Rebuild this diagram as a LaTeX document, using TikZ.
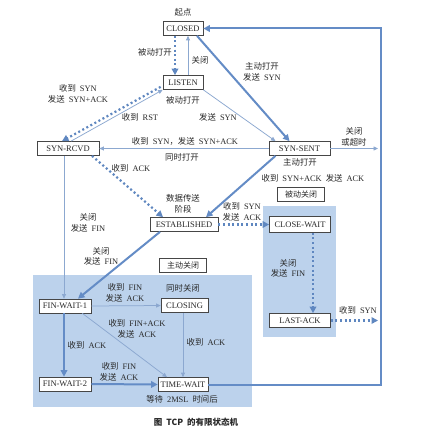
\documentclass[tikz,border=0pt]{standalone}
\usepackage{fontspec}
\setmainfont{Liberation Serif}
\newfontfamily\cjk{Noto Sans CJK SC}
\usetikzlibrary{arrows.meta}
\newcommand\z[1]{{\cjk #1}}
\newcommand\mygap{\hspace{4pt}}
\definecolor{regionblue}{RGB}{188,210,236}
\definecolor{linethick}{RGB}{100,140,198}
\definecolor{linethin}{RGB}{140,168,208}
\definecolor{linedot}{RGB}{95,135,192}
\definecolor{boxline}{RGB}{70,70,70}
\definecolor{txt}{RGB}{40,40,40}
\begin{document}
\begin{tikzpicture}[x=1pt,y=-1pt,
 state/.style={draw=boxline, line width=0.7pt, fill=white, inner sep=1pt, minimum height=14pt, font=\fontsize{8.5}{10}\selectfont, text=txt},
 tagbox/.style={draw=boxline, line width=0.6pt, fill=white, inner sep=1pt, minimum height=14pt, minimum width=47pt, font=\cjk\fontsize{8}{10}\selectfont, text=txt},
 lab/.style={font=\fontsize{8.4}{10.5}\selectfont, align=center, text=txt, inner sep=0pt},
 arrthick/.style={draw=linethick, line width=2pt, -{Triangle[length=6.5pt,width=6.5pt]}},
 arrthin/.style={draw=linethin, line width=0.75pt, -{Triangle[length=4.5pt,width=4pt]}},
 arrdot/.style={draw=linedot, line width=2.2pt, dash pattern=on 2pt off 2.6pt, -{Triangle[length=6.5pt,width=6.5pt]}},
]
\useasboundingbox (0,0) rectangle (424,436);
\fill[white] (0,0) rectangle (424,436);
% regions
\fill[regionblue] (33,275) rectangle (252,407);
\fill[regionblue] (263,206) rectangle (336,337);
% loop coordinates
\coordinate (loopbr) at (381,384.5);
\coordinate (looptr) at (381,28.5);
\coordinate (loopin) at (379,0);
% states
\node[state, minimum width=40pt] (closed) at (183,28.5) {CLOSED};
\node[state, minimum width=40pt] (listen) at (183,82.5) {LISTEN};
\node[state, minimum width=62pt] (synrcvd) at (68,148.5) {SYN-RCVD};
\node[state, minimum width=61pt] (synsent) at (299.5,148.5) {SYN-SENT};
\node[state, minimum width=68pt] (est) at (184,224.5) {ESTABLISHED};
\node[state, minimum width=61pt, minimum height=16pt] (closewait) at (300,224.5) {CLOSE-WAIT};
\node[state, minimum width=61pt] (lastack) at (300,320.5) {LAST-ACK};
\node[state, minimum width=52pt] (fw1) at (65,306) {FIN-WAIT-1};
\node[state, minimum width=47pt] (closing) at (184.5,305.5) {CLOSING};
\node[state, minimum width=52pt] (fw2) at (65,384) {FIN-WAIT-2};
\node[state, minimum width=50pt] (timewait) at (183,384.5) {TIME-WAIT};
\node[tagbox] (passive) at (301,194.5) {被动关闭};
\node[tagbox] (active) at (183,265.5) {主动关闭};
% connectors
\draw[arrdot] ([xshift=-8pt]closed.south) -- ([xshift=-8pt]listen.north);
\draw[arrthin] ([xshift=5pt]listen.north) -- ([xshift=5pt]closed.south);
\draw[arrthick] ([xshift=14pt]closed.south) -- ([xshift=-10pt]synsent.north);
\draw[arrthin] (listen.south east) -- ([xshift=-24pt]synsent.north);
\draw[arrdot] ([xshift=-2pt,yshift=3pt]listen.south west) -- ([xshift=-6pt]synrcvd.north);
\draw[arrthin] ([xshift=3pt]synrcvd.north) -- (listen.south west);
\draw[arrthin] (synsent.west) -- (synrcvd.east);
\draw[arrthin, shorten >=1pt] (synsent.east) -- (synsent.east -| loopin);
\draw[arrdot] ([xshift=24pt]synrcvd.south) -- ([xshift=-21pt]est.north);
\draw[arrthick] ([xshift=-24pt]synsent.south) -- ([xshift=22pt]est.north);
\draw[arrdot] (est.east) -- (closewait.west);
\draw[arrdot] ([xshift=13pt]closewait.south) -- ([xshift=13pt]lastack.north);
\draw[arrdot, shorten >=1pt] (lastack.east) -- (lastack.east -| loopin);
\draw[arrthin] ([xshift=-4pt]synrcvd.south) -- ([xshift=-1pt]fw1.north);
\draw[arrthick] ([xshift=-24pt]est.south) -- ([xshift=13pt]fw1.north);
\draw[arrthin] (fw1.east) -- (closing.west);
\draw[arrthin] ([xshift=-9pt]fw1.south east) -- ([xshift=-16pt]timewait.north);
\draw[arrthick] ([xshift=-1pt]fw1.south) -- ([xshift=-1pt]fw2.north);
\draw[arrthin] ([xshift=-1.5pt]closing.south) -- ([xshift=0pt]timewait.north);
\draw[arrthick] (fw2.east) -- (timewait.west);
\draw[arrthick] (timewait.east) -- (timewait.east -| loopbr) -- (looptr) -- (closed.east);
% labels
\node[lab] (l1) at (183,12) {\z{起点}};
\node[lab] (l2) at (155,52) {\z{被动打开}};
\node[lab] (l3) at (200,60) {\z{关闭}};
\node[lab] (l4) at (262,72) {\z{主动打开}\\\z{发送}\mygap SYN};
\node[lab] (l5) at (183,100) {\z{被动打开}};
\node[lab] (l6) at (140,117) {\z{收到}\mygap RST};
\node[lab] (l7) at (218,117) {\z{发送}\mygap SYN};
\node[lab] (l8) at (78,94) {\z{收到}\mygap SYN\\\z{发送}\mygap SYN+ACK};
\node[lab] (l9) at (185,141) {\z{收到}\mygap SYN\z{，发送}\mygap SYN+ACK};
\node[lab] (l10) at (182,157) {\z{同时打开}};
\node[lab] (l11) at (354,137) {\z{关闭}\\\z{或超时}};
\node[lab] (l12) at (300,162) {\z{主动打开}};
\node[lab] (l13) at (313,178) {\z{收到}\mygap SYN+ACK\mygap\z{发送}\mygap ACK};
\node[lab] (l14) at (131,168) {\z{收到}\mygap ACK};
\node[lab] (l15) at (183,204) {\z{数据传送}\\\z{阶段}};
\node[lab] (l16) at (88,223) {\z{关闭}\\\z{发送}\mygap FIN};
\node[lab] (l17) at (101,256.5) {\z{关闭}\\\z{发送}\mygap FIN};
\node[lab] (l18) at (242,212) {\z{收到}\mygap SYN\\\z{发送}\mygap ACK};
\node[lab] (l19) at (288,268.5) {\z{关闭}\\\z{发送}\mygap FIN};
\node[lab] (l20) at (358,310) {\z{收到}\mygap SYN};
\node[lab] (l21) at (125,293) {\z{收到}\mygap FIN\\\z{发送}\mygap ACK};
\node[lab] (l22) at (183,288) {\z{同时关闭}};
\node[lab] (l23) at (137,329) {\z{收到}\mygap FIN+ACK\\\z{发送}\mygap ACK};
\node[lab] (l24) at (87,345) {\z{收到}\mygap ACK};
\node[lab] (l25) at (206,342) {\z{收到}\mygap ACK};
\node[lab] (l26) at (119,372) {\z{收到}\mygap FIN\\\z{发送}\mygap ACK};
\node[lab] (l27) at (182,399) {\z{等待}\mygap 2MSL\mygap\z{时间后}};
\node[lab, font=\cjk\bfseries\fontsize{8.5}{10}\selectfont] (cap) at (196,422) {图\mygap TCP\mygap 的有限状态机};
\end{tikzpicture}
\end{document}
